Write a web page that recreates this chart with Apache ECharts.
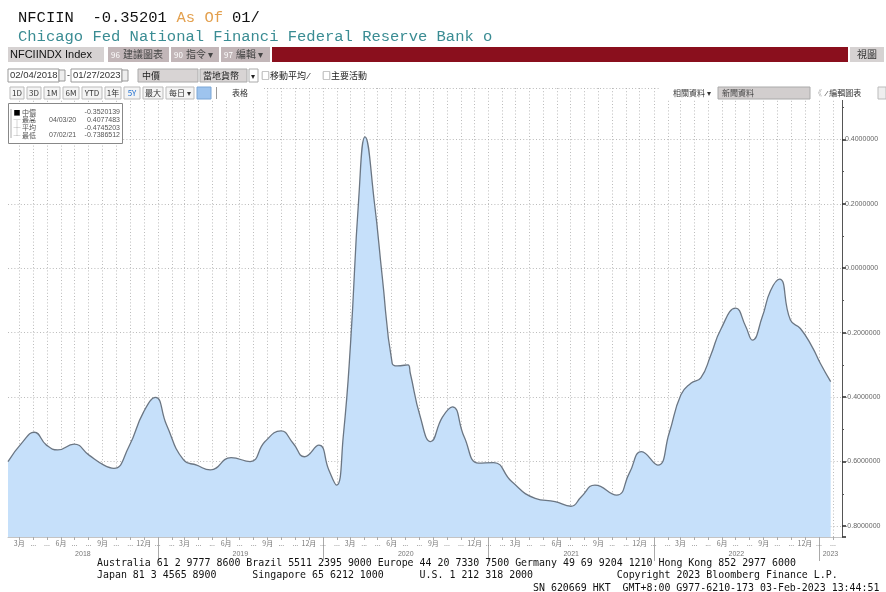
<!DOCTYPE html>
<html>
<head>
<meta charset="utf-8">
<script src="https://cdn.jsdelivr.net/npm/echarts@6/dist/echarts.min.js"></script>
<style>
html,body{margin:0;padding:0;background:#fff;}
#c{width:886px;height:592px;}
</style>
</head>
<body>
<div id="c"></div>
<script>
// ---- data ----
const dates = ['2018-02-04','2018-03-09','2018-04-03','2018-04-30','2018-05-25','2018-06-30','2018-08-02','2018-09-04','2018-09-26','2018-10-29','2018-12-01','2018-12-27',
  '2019-01-20','2019-02-27','2019-03-28','2019-04-27','2019-06-12','2019-07-24','2019-08-26','2019-09-30','2019-10-27','2019-11-21','2019-12-23',
  '2020-01-14','2020-01-31','2020-02-15','2020-03-02','2020-03-20','2020-04-03','2020-04-24','2020-05-11','2020-06-02','2020-06-13','2020-07-07','2020-07-12','2020-08-03','2020-08-26','2020-09-21','2020-10-13','2020-11-08','2020-12-10',
  '2021-01-12','2021-02-21','2021-04-14','2021-05-28','2021-07-02','2021-07-25','2021-08-24','2021-10-11','2021-11-08','2021-12-05',
  '2022-01-10','2022-02-04','2022-03-02','2022-03-24','2022-04-15','2022-05-07','2022-05-29','2022-07-01','2022-07-23','2022-08-07','2022-08-29','2022-09-16','2022-10-06','2022-10-30','2022-11-21','2022-12-17',
  '2023-01-04','2023-01-27'];
const values = [-0.600,-0.538,-0.509,-0.549,-0.564,-0.546,-0.580,-0.611,-0.621,-0.554,-0.445,-0.401,
  -0.485,-0.595,-0.611,-0.626,-0.588,-0.600,-0.538,-0.505,-0.543,-0.585,-0.549,
  -0.626,-0.673,-0.520,-0.233,0.215,0.4077,0.200,-0.026,-0.295,-0.303,-0.300,-0.326,-0.461,-0.538,-0.462,-0.430,-0.523,-0.605,
  -0.603,-0.662,-0.714,-0.724,-0.7387,-0.709,-0.673,-0.704,-0.636,-0.569,
  -0.611,-0.512,-0.393,-0.357,-0.340,-0.270,-0.190,-0.124,-0.180,-0.223,-0.150,-0.070,-0.034,-0.161,-0.187,-0.244,
  -0.295,-0.3520];
const currentValue = -0.3520139;
const yTickStep = 0.2;
const legendRows = [
  ['■','中價','','-0.3520139'],
  ['┬','最高','04/03/20','0.4077483'],
  ['┼','平均','','-0.4745203'],
  ['┴','最低','07/02/21','-0.7386512']
];
const footerLines = [
  'Australia 61 2 9777 8600 Brazil 5511 2395 9000 Europe 44 20 7330 7500 Germany 49 69 9204 1210 Hong Kong 852 2977 6000',
  'Japan 81 3 4565 8900      Singapore 65 6212 1000      U.S. 1 212 318 2000              Copyright 2023 Bloomberg Finance L.P.',
  'SN 620669 HKT  GMT+8:00 G977-6210-173 03-Feb-2023 13:44:51'
];

function ts(s) { const p = s.split('-').map(Number); return new Date(p[0], p[1]-1, p[2]).getTime(); }

// ---- axis ranges ----
const xMin = ts('2018-02-04');
const xMax = ts('2023-02-21');
const yMin = -0.8341, yMax = 0.5592;

const monthTicks = [];
for (let y = 2018; y <= 2023; y++) for (let m = 0; m < 12; m++) {
  const t = new Date(y, m, 1).getTime();
  if (t > xMin && t < xMax) monthTicks.push(t);
}
const yearTicks = [], yearCenters = [];
for (let y = 2018; y <= 2023; y++) {
  const a = Math.max(xMin, new Date(y,0,1).getTime());
  const b = Math.min(xMax, new Date(y+1,0,1).getTime());
  if (y > 2018) yearTicks.push(new Date(y,0,1).getTime());
  yearCenters.push(Math.round((a + b) / 2));
}

const chart = echarts.init(document.getElementById('c'), null, {renderer:'canvas'});
const cjk = '"Noto Sans CJK TC","Noto Sans CJK SC",sans-serif';
const g = [];
function txt(x, y, s, o) {
  g.push({type:'text', z:100, style:Object.assign({x:x, y:y, text:s, fill:'#222', font:'9px '+cjk, textVerticalAlign:'middle'}, o||{})});
}
function box(x, y, w, h, fill, stroke) {
  g.push({type:'rect', z:99, shape:{x:x, y:y, width:w, height:h}, style:{fill:fill, stroke:stroke||null, lineWidth:stroke?1:0}});
}
// header lines
const mono = '"Liberation Mono","DejaVu Sans Mono",monospace';
txt(18, 18, 'NFCIIN  -0.35201', {font:'15.5px '+mono, fill:'#111'});
txt(176.5, 18, 'As Of', {font:'15.5px '+mono, fill:'#e3a04e'});
txt(232, 18, '01/', {font:'15.5px '+mono, fill:'#111'});
txt(18, 37, 'Chicago Fed National Financi Federal Reserve Bank o', {font:'15.5px '+mono, fill:'#3a8c93'});
// row 3
box(0, 46, 886, 17, '#ffffff');
box(8, 47, 96, 15, '#d6d2d2');
txt(10, 54.5, 'NFCIINDX Index', {font:'11px "Liberation Sans",sans-serif', fill:'#111'});
box(108, 47, 61, 15, '#c2b6b8');
txt(111, 54.5, '96', {font:'8px '+cjk, fill:'#fff'});
txt(123, 54.5, '建議圖表', {font:'10px '+cjk, fill:'#444'});
box(171, 47, 48, 15, '#c2b6b8');
txt(174, 54.5, '90', {font:'8px '+cjk, fill:'#fff'});
txt(186, 54.5, '指令 ▾', {font:'10px '+cjk, fill:'#444'});
box(221, 47, 49, 15, '#c2b6b8');
txt(224, 54.5, '97', {font:'8px '+cjk, fill:'#fff'});
txt(236, 54.5, '編輯 ▾', {font:'10px '+cjk, fill:'#444'});
box(272, 47, 576, 15, '#8a0f1d');
box(850, 47, 34, 15, '#d6d2d2');
txt(857, 54.5, '視圖', {font:'10px '+cjk, fill:'#333'});
// row 4
box(8, 69, 51, 13, '#fff', '#999');
txt(10, 75.5, '02/04/2018', {font:'9.5px "Liberation Sans",sans-serif', fill:'#333'});
box(59, 70, 6, 11, '#eee', '#999');
txt(67, 75.5, '-', {font:'9px sans-serif'});
box(71, 69, 51, 13, '#fff', '#999');
txt(73, 75.5, '01/27/2023', {font:'9.5px "Liberation Sans",sans-serif', fill:'#333'});
box(122, 70, 6, 11, '#eee', '#999');
box(138, 69, 60, 13, '#d8d4d4', '#aaa');
txt(142, 75.5, '中價', {font:'9px '+cjk});
box(200, 69, 47, 13, '#d8d4d4', '#aaa');
txt(203, 75.5, '當地貨幣', {font:'9px '+cjk});
box(249, 69, 9, 13, '#fff', '#aaa');
txt(251, 75.5, '▾', {font:'8px '+cjk});
txt(261, 75.5, '□移動平均 ⁄', {font:'9px '+cjk});
txt(322, 75.5, '□主要活動', {font:'9px '+cjk});
// row 5
box(0, 86, 262, 14, '#fff');
const btns = [['1D',10,14],['3D',27,14],['1M',44,16],['6M',63,16],['YTD',82,20],['1年',105,16],['5Y',124,16],['最大',143,20],['每日 ▾',166,28]];
btns.forEach(b => { box(b[1], 87, b[2], 12, '#f4f4f4', '#bbb'); txt(b[1]+b[2]/2, 93, b[0], {font:'8px '+cjk, fill: b[0]==='5Y' ? '#1f6fd0' : '#333', textAlign:'center'}); });
box(197, 87, 14, 12, '#9ec4ee', '#7aa6d6');
box(216, 87, 1, 12, '#999');
txt(240, 93, '表格', {font:'8px '+cjk, fill:'#333', textAlign:'center'});
box(660, 86, 226, 14, '#fff');
txt(673, 93, '相關資料 ▾', {font:'8px '+cjk, fill:'#333'});
box(718, 87, 92, 12, '#d2cece', '#aaa');
txt(722, 93, '新聞資料', {font:'8px '+cjk, fill:'#444'});
txt(814, 93, '《', {font:'8px '+cjk, fill:'#aaa'});
txt(826, 93, '⁄ 編輯圖表', {font:'8px '+cjk, fill:'#333'});
box(878, 87, 8, 12, '#eee', '#bbb');
// legend box
box(8.5, 103.5, 114, 40, '#fff', '#888');
g.push({type:'line', z:100, shape:{x1:11, y1:109, x2:11, y2:138}, style:{stroke:'#999', lineWidth:0.8}});
legendRows.forEach((r, i) => {
  const y = 112 + i * 7.8;
  txt(13.5, y, r[0], {font:'7px '+cjk, fill: i===0 ? '#000' : '#777'});
  txt(22, y, r[1], {font:'7px '+cjk, fill:'#555'});
  if (r[2]) txt(49, y, r[2], {font:'7px "Liberation Sans",sans-serif', fill:'#555'});
  txt(120, y, r[3], {font:'7px "Liberation Sans",sans-serif', fill:'#555', textAlign:'right'});
});
// footer
const fmono = '9.93px "DejaVu Sans Mono",monospace';
txt(97, 563, footerLines[0], {font:fmono, fill:'#111'});
txt(97, 575, footerLines[1], {font:fmono, fill:'#111'});
txt(533, 588, footerLines[2], {font:fmono, fill:'#111'});

const dotted = {type:[1,2.2], color:'#a9a9a9', width:0.8};
const option = {
  animation:false,
  backgroundColor:'#ffffff',
  grid:{left:8, right:44, top:88, bottom:55, containLabel:false},
  xAxis:[{
    type:'value', min:xMin, max:xMax, position:'bottom',
    axisLine:{show:true, onZero:false, lineStyle:{color:'#c4c4c4', width:1}},
    axisTick:{show:true, customValues:monthTicks, length:3, lineStyle:{color:'#aaa'}},
    axisLabel:{customValues:monthTicks, fontSize:7, color:'#777', margin:3, fontFamily:'"Noto Sans CJK SC"',
      formatter:function(v){ const m = new Date(v).getMonth()+1; return m%3===0 ? m+'月' : '...'; }},
    splitLine:{show:true, lineStyle:dotted}
  },{
    type:'value', min:xMin, max:xMax, position:'bottom',
    axisLine:{show:false, onZero:false},
    axisTick:{show:true, customValues:yearTicks, length:24, lineStyle:{color:'#aaa'}},
    axisLabel:{customValues:yearCenters, fontSize:7, color:'#777', margin:14, fontFamily:'"Liberation Sans"',
      formatter:function(v){ return String(new Date(v).getFullYear()); }},
    splitLine:{show:false}
  }],
  yAxis:{
    type:'value', position:'right', min:yMin, max:yMax, splitNumber:7,
    axisLine:{show:true, lineStyle:{color:'#555', width:1}},
    axisTick:{show:true, length:4, lineStyle:{color:'#333', width:1.6}},
    minorTick:{show:true, splitNumber:2, length:2, lineStyle:{color:'#555'}},
    axisLabel:{fontSize:7, color:'#666', margin:3, fontFamily:'"Liberation Sans"',
      formatter:function(v){ const k = v / yTickStep; return Math.abs(k - Math.round(k)) < 1e-6 ? v.toFixed(7) : ''; }},
    splitLine:{show:true, lineStyle:dotted}
  },
  series:[{
    type:'line', xAxisIndex:0,
    data: dates.map((d, i) => [ts(d), values[i]]),
    smooth:0.5, symbol:'none',
    lineStyle:{color:'#6b7683', width:1.3},
    areaStyle:{color:'#c6e0fa', opacity:1, origin:'start'},
    markLine:{silent:true, symbol:'none', animation:false,
      lineStyle:{opacity:0},
      data:[{yAxis:currentValue}],
      label:{show:true, position:'end', distance:3, formatter:currentValue.toFixed(7),
        backgroundColor:'#111', color:'#fff', fontSize:7, padding:[2,2], fontFamily:'"Liberation Sans"'}}
  }],
  graphic:g
};
chart.setOption(option);
</script>
</body>
</html>
